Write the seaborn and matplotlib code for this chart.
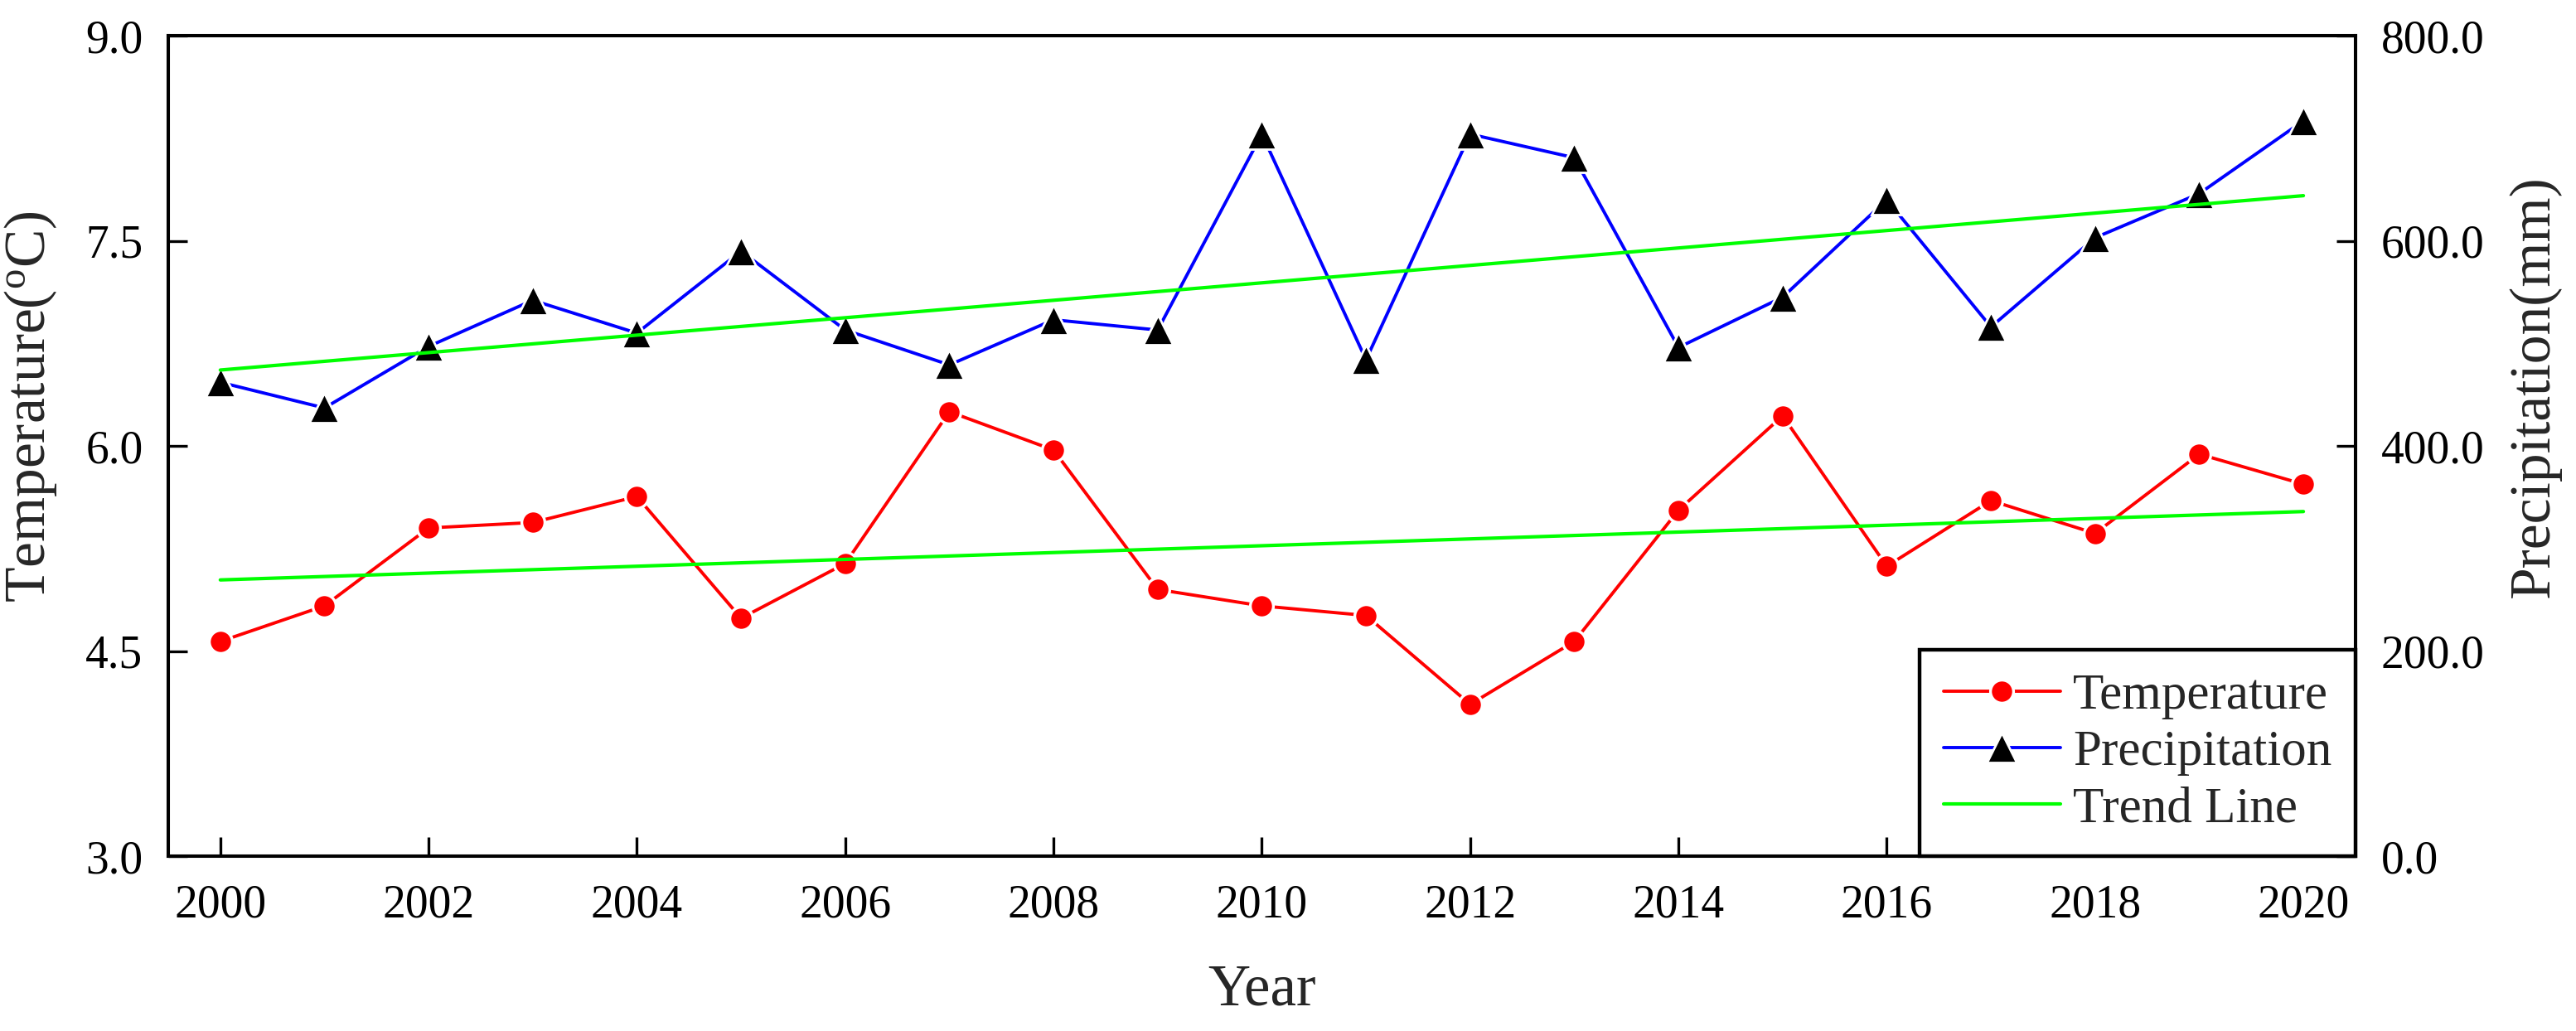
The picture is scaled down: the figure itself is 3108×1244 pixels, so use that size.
import seaborn as sns
import matplotlib.pyplot as plt
import pandas as pd

# data
years = list(range(2000, 2021))
temperature = [4.57, 4.83, 5.40, 5.44, 5.63, 4.74, 5.14, 6.25, 5.97, 4.95, 4.83,
               4.76, 4.11, 4.57, 5.53, 6.22, 5.12, 5.60, 5.36, 5.94, 5.72]
precipitation = [462, 437, 497, 542, 510, 590, 513, 479, 523, 513, 704,
                 484, 704, 681, 496, 545, 640, 516, 603, 646, 717]
trend_years = [2000, 2020]
temp_trend = [5.02, 5.52]
precip_trend = [474, 644]

df = pd.DataFrame({'year': years, 'temp': temperature, 'prec': precipitation})
df_trend = pd.DataFrame({'year': trend_years, 'temp': temp_trend, 'prec': precip_trend})

sns.set_style('ticks')
plt.rcParams['font.family'] = ['Liberation Serif', 'DejaVu Serif']
plt.rcParams['mathtext.fontset'] = 'custom'
plt.rcParams['mathtext.rm'] = 'Liberation Serif'

fig, ax = plt.subplots(figsize=(15.54, 6.22), dpi=200)
fig.subplots_adjust(left=0.0653, right=0.9144, bottom=0.1696, top=0.9654)
ax2 = ax.twinx()

# temperature on the left axis
sns.lineplot(data=df, x='year', y='temp', ax=ax, color='#ff0000', linewidth=1.4,
             marker='o', markersize=10, markerfacecolor='#ff0000',
             markeredgecolor='white', markeredgewidth=1.2, label='Temperature', legend=False)
sns.lineplot(data=df_trend, x='year', y='temp', ax=ax, color='#00ff00', linewidth=1.5, legend=False)

# precipitation on the right axis
sns.lineplot(data=df, x='year', y='prec', ax=ax2, color='#0000ff', linewidth=1.4,
             marker='^', markersize=13, markerfacecolor='black',
             markeredgecolor='white', markeredgewidth=1.0, label='Precipitation', legend=False)
sns.lineplot(data=df_trend, x='year', y='prec', ax=ax2, color='#00ff00', linewidth=1.5,
             label='Trend Line', legend=False)

ax.set_xlim(1999.5, 2020.5)
ax.set_ylim(3.0, 9.0)
ax2.set_ylim(0, 800)
ax.set_xticks(range(2000, 2021, 2))
ax.set_yticks([3.0, 4.5, 6.0, 7.5, 9.0])
ax.set_yticklabels(['3.0', '4.5', '6.0', '7.5', '9.0'])
ax2.set_yticks([0, 200, 400, 600, 800])
ax2.set_yticklabels(['0.0', '200.0', '400.0', '600.0', '800.0'])

for a in (ax, ax2):
    for s in a.spines.values():
        s.set_linewidth(1.45)
        s.set_color('black')
    a.tick_params(direction='in', length=8.3, width=1.2, labelsize=20, colors='black', pad=11)
ax.tick_params(axis='x', pad=12)

ax.set_xlabel('Year', fontsize=25.5, labelpad=16)
ax.set_ylabel('Temperature($\\rm ^{o}$C)', fontsize=25)
ax.yaxis.set_label_coords(-0.050, 0.548)
ax2.set_ylabel('Precipitation(mm)', fontsize=25)
ax2.yaxis.set_label_coords(1.070, 0.573)

# combined legend in the lower right corner
h1, l1 = ax.get_legend_handles_labels()
h2, l2 = ax2.get_legend_handles_labels()
leg = ax2.legend(h1 + h2, l1 + l2, loc='lower right', bbox_to_anchor=(1, 0), borderaxespad=0,
                 fontsize=22, fancybox=False, edgecolor='black', framealpha=1,
                 handlelength=2.3, handletextpad=0.25, labelspacing=0.2, borderpad=0.47)
leg.get_frame().set_linewidth(1.6)

fig.savefig('out.png', dpi=200)
